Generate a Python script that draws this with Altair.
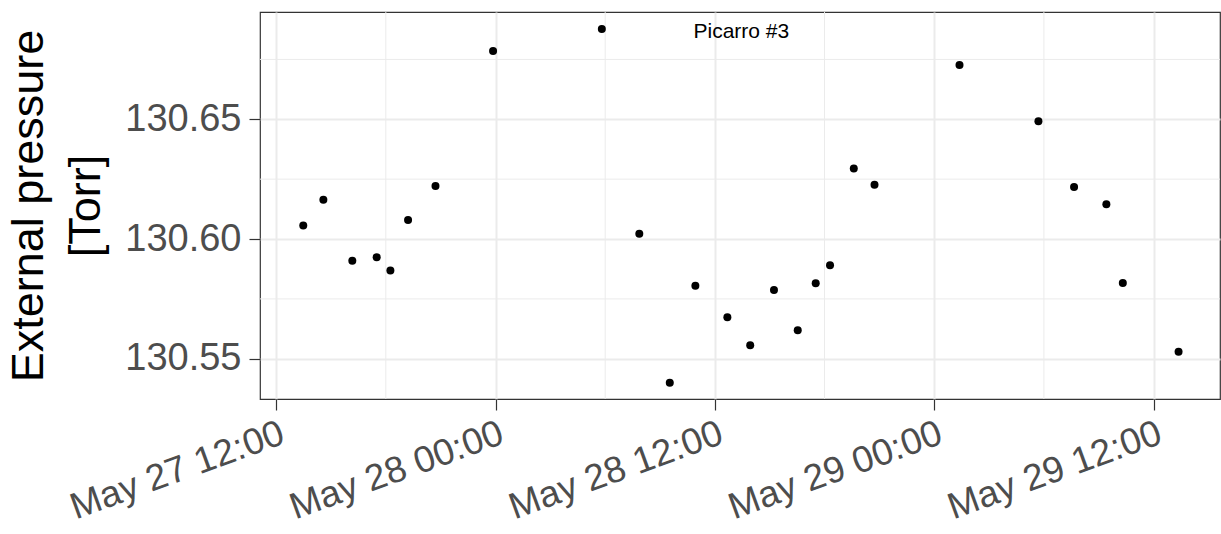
import altair as alt
import pandas as pd

# ---- data ----
times = [
    "2019-05-27T13:29:00Z", "2019-05-27T14:35:00Z", "2019-05-27T16:10:00Z", "2019-05-27T17:30:00Z",
    "2019-05-27T18:15:00Z", "2019-05-27T19:13:00Z", "2019-05-27T20:43:00Z", "2019-05-27T23:52:00Z",
    "2019-05-28T05:49:00Z", "2019-05-28T07:52:00Z", "2019-05-28T09:32:00Z", "2019-05-28T10:56:00Z",
    "2019-05-28T12:41:00Z", "2019-05-28T13:56:00Z", "2019-05-28T15:14:00Z", "2019-05-28T16:32:00Z",
    "2019-05-28T17:31:00Z", "2019-05-28T18:18:00Z", "2019-05-28T19:36:00Z", "2019-05-28T20:44:00Z",
    "2019-05-29T01:23:00Z", "2019-05-29T05:42:00Z", "2019-05-29T07:39:00Z", "2019-05-29T09:25:00Z",
    "2019-05-29T10:19:00Z", "2019-05-29T13:22:00Z",
]
pressure = [
    130.6057, 130.6164, 130.5909, 130.5924, 130.5869, 130.6079, 130.6221, 130.6785,
    130.6877, 130.6022, 130.5400, 130.5805, 130.5673, 130.5556, 130.5787, 130.5619,
    130.5815, 130.5891, 130.6294, 130.6227, 130.6727, 130.6492, 130.6217, 130.6145,
    130.5816, 130.5529,
]
y_ticks = [130.55, 130.60, 130.65]
y_minor = [130.575, 130.625, 130.675]
x_minor = ["2019-05-27T18:00:00Z", "2019-05-28T06:00:00Z", "2019-05-28T18:00:00Z", "2019-05-29T06:00:00Z"]
annotation_text = ["Picarro #3"]
annotation_t = ["2019-05-28T13:27:00Z"]
annotation_v = [130.6838]

df = pd.DataFrame({"t": times, "v": pressure})
df_ymin = pd.DataFrame({"v": y_minor})
df_xmin = pd.DataFrame({"t": x_minor})
df_ann = pd.DataFrame({"t": annotation_t, "v": annotation_v, "label": annotation_text})

def dt(d, h, m=0):
    return alt.DateTime(year=2019, month=5, date=d, hours=h, minutes=m, utc=True)

x_values = [dt(27, 12), dt(28, 0), dt(28, 12), dt(29, 0), dt(29, 12)]
x_scale = alt.Scale(type="utc", domain=[dt(27, 11, 7), dt(29, 15, 38)])
y_scale = alt.Scale(domain=[130.5332, 130.6948], nice=False, zero=False)

x_axis = alt.Axis(
    values=x_values, format="%b %d %H:%M", title=None,
    labelAngle=-20, labelAlign="right", labelBaseline="top",
    labelFontSize=37, labelColor="#4d4d4d", labelPadding=5, labelLimit=0,
    labelOverlap=False, labelBound=False, labelFlush=False,
    tickSize=11, tickColor="#333333", tickWidth=1.2,
    domain=False, grid=True, gridColor="#ebebeb", gridWidth=2,
)
y_axis = alt.Axis(
    values=y_ticks, format=".2f", title=["External pressure", "[Torr]"],
    titleFontSize=45, titleColor="black", titleFontWeight="normal",
    titleLineHeight=57, titleX=-209, titleBaseline="bottom",
    labelFontSize=38, labelColor="#4d4d4d", labelPadding=8, labelLimit=0,
    labelOverlap=False, labelBound=False, labelFlush=False,
    tickSize=11, tickColor="#333333", tickWidth=1.2,
    domain=False, grid=True, gridColor="#ebebeb", gridWidth=2,
)

points = alt.Chart(df).mark_circle(size=64, color="black", opacity=1).encode(
    x=alt.X("t:T", scale=x_scale, axis=x_axis),
    y=alt.Y("v:Q", scale=y_scale, axis=y_axis),
)
minor_y = alt.Chart(df_ymin).mark_rule(color="#ebebeb", strokeWidth=1).encode(
    y=alt.Y("v:Q", scale=y_scale, axis=y_axis)
)
minor_x = alt.Chart(df_xmin).mark_rule(color="#ebebeb", strokeWidth=1).encode(
    x=alt.X("t:T", scale=x_scale, axis=x_axis)
)
ann = alt.Chart(df_ann).mark_text(fontSize=21, color="black", align="center", baseline="alphabetic").encode(
    x=alt.X("t:T", scale=x_scale, axis=x_axis),
    y=alt.Y("v:Q", scale=y_scale, axis=y_axis),
    text="label:N",
)

chart = alt.layer(minor_y, minor_x, points, ann).properties(
    width=960, height=387,
    padding={"left": 260, "top": 12, "right": 1, "bottom": 135},
    autosize=alt.AutoSizeParams(type="none"),
).configure(font="Liberation Sans").configure_view(stroke="#333333", strokeWidth=1.2)

chart.save("out.html", embed_options={"renderer": "svg", "actions": False})
